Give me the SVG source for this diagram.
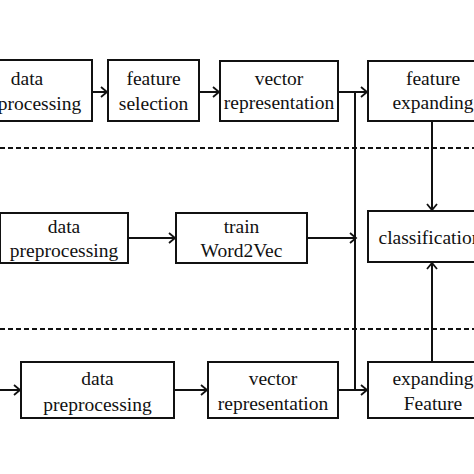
<svg xmlns="http://www.w3.org/2000/svg" width="474" height="474" viewBox="0 0 474 474">
<defs>
<style>
.box{fill:#fff;stroke:#111;stroke-width:2}
.t{font-family:"Liberation Serif","Times New Roman",serif;font-size:19.5px;fill:#111;text-anchor:middle}
.ln{fill:none;stroke:#111;stroke-width:2}
.dash{fill:none;stroke:#111;stroke-width:2.2;stroke-dasharray:5,3}
</style>
<marker id="ah" markerWidth="12" markerHeight="12" refX="9" refY="6" orient="auto" markerUnits="userSpaceOnUse">
<path d="M3,1 L9,6 L3,11" fill="none" stroke="#111" stroke-width="1.8"/>
</marker>
</defs>
<rect width="474" height="474" fill="#fff"/>
<g id="separators">
<line class="dash" x1="0" y1="148" x2="474" y2="148"/>
<line class="dash" x1="0" y1="329" x2="474" y2="329"/>
</g>
<g id="connectors">
<line class="ln" x1="92" y1="92" x2="107" y2="92" marker-end="url(#ah)"/>
<line class="ln" x1="199" y1="92" x2="219" y2="92" marker-end="url(#ah)"/>
<line class="ln" x1="338" y1="92" x2="367" y2="92" marker-end="url(#ah)"/>
<line class="ln" x1="355" y1="92" x2="355" y2="390"/>
<line class="ln" x1="128" y1="238" x2="175" y2="238" marker-end="url(#ah)"/>
<line class="ln" x1="307" y1="238" x2="356" y2="238" marker-end="url(#ah)"/>
<line class="ln" x1="0" y1="390" x2="20" y2="390" marker-end="url(#ah)"/>
<line class="ln" x1="174" y1="390" x2="207" y2="390" marker-end="url(#ah)"/>
<line class="ln" x1="338" y1="390" x2="367" y2="390" marker-end="url(#ah)"/>
<line class="ln" x1="432" y1="121" x2="432" y2="210" marker-end="url(#ah)"/>
<line class="ln" x1="432" y1="362" x2="432" y2="263" marker-end="url(#ah)"/>
</g>
<g id="n1"><rect class="box" x="-40" y="60" width="132" height="61"/><text class="t" x="27" y="85">data</text><text class="t" x="27" y="110">preprocessing</text></g>
<g id="n2"><rect class="box" x="108" y="60" width="91" height="61"/><text class="t" x="153.5" y="85">feature</text><text class="t" x="153.5" y="110">selection</text></g>
<g id="n3"><rect class="box" x="220" y="61" width="118" height="60"/><text class="t" x="279" y="85">vector</text><text class="t" x="279" y="109">representation</text></g>
<g id="n4"><rect class="box" x="368" y="61" width="130" height="60"/><text class="t" x="433" y="85">feature</text><text class="t" x="433" y="109">expanding</text></g>
<g id="n5"><rect class="box" x="0" y="213" width="128" height="50"/><text class="t" x="64" y="233">data</text><text class="t" x="64" y="257">preprocessing</text></g>
<g id="n6"><rect class="box" x="176" y="213" width="131" height="50"/><text class="t" x="241.5" y="233">train</text><text class="t" x="241.5" y="257">Word2Vec</text></g>
<g id="n7"><rect class="box" x="368" y="211" width="130" height="51"/><text class="t" x="430" y="244">classification</text></g>
<g id="n8"><rect class="box" x="21" y="362" width="153" height="56"/><text class="t" x="97.5" y="385">data</text><text class="t" x="97.5" y="411">preprocessing</text></g>
<g id="n9"><rect class="box" x="208" y="362" width="130" height="56"/><text class="t" x="273" y="385">vector</text><text class="t" x="273" y="410">representation</text></g>
<g id="n10"><rect class="box" x="368" y="362" width="130" height="56"/><text class="t" x="433" y="385">expanding</text><text class="t" x="433" y="410">Feature</text></g>
</svg>
